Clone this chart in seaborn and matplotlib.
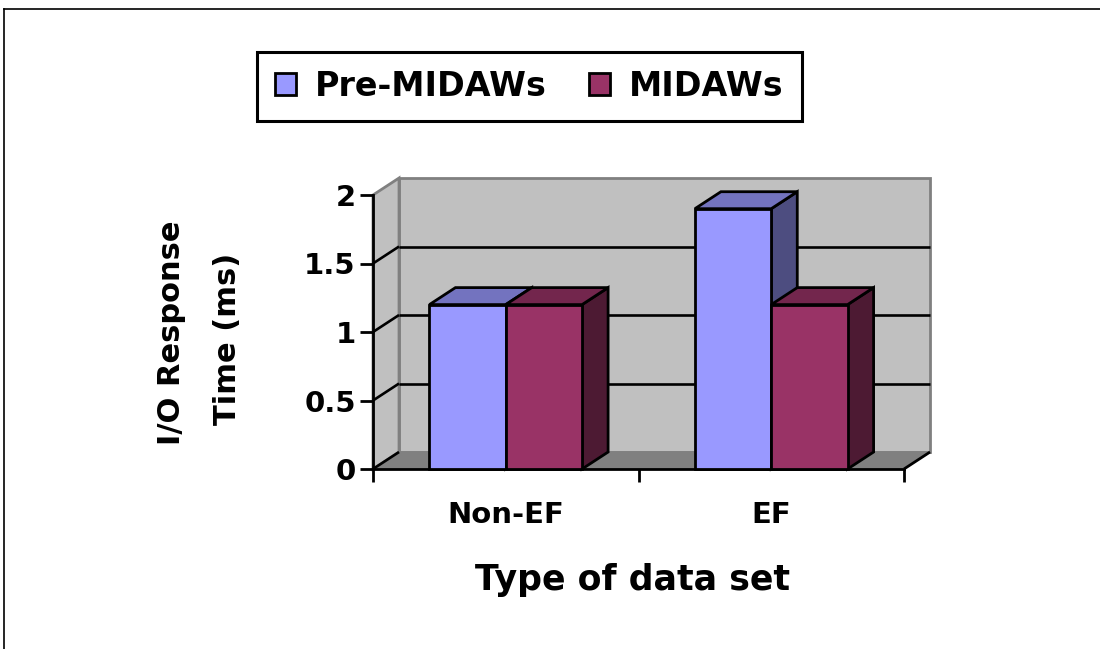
import matplotlib
matplotlib.use("Agg")
import matplotlib.pyplot as plt
import pandas as pd
import seaborn as sns
from matplotlib import colors as mcolors
from matplotlib.lines import Line2D
from matplotlib.patches import Patch, Polygon

# ---- data ----
categories = ["Non-EF", "EF"]
series_names = ["Pre-MIDAWs", "MIDAWs"]
pre_midaws = [1.2, 1.9]
midaws = [1.2, 1.2]
y_ticks = [0, 0.5, 1, 1.5, 2]
y_tick_labels = ["0", "0.5", "1", "1.5", "2"]
series_colors = ["#9999FF", "#993366"]

df = pd.DataFrame({
    "type": categories * 2,
    "series": [series_names[0]] * len(categories) + [series_names[1]] * len(categories),
    "time": pre_midaws + midaws,
})

# depth of the pseudo-3D box, in data units (x: categories, y: ms)
DX, DY = 0.098, 0.124
WALL = "#C0C0C0"
FLOOR = "#808080"


def shade(color, k):
    r, g, b = mcolors.to_rgb(color)
    return (r * k, g * k, b * k)


fig = plt.figure(figsize=(11, 6.49), dpi=100)
ax = fig.add_axes([373 / 1100, 1 - 469 / 649, 531 / 1100, 274 / 649])
ax.set_facecolor("none")

sns.barplot(data=df, x="type", y="time", hue="series", order=categories,
            hue_order=series_names, palette=series_colors, saturation=1,
            width=0.575, gap=0, errorbar=None, edgecolor="black",
            linewidth=2, legend=False, ax=ax)
bars = sorted(ax.patches, key=lambda p: p.get_x())

x0, x1 = -0.5, len(categories) - 0.5
y0, y1 = y_ticks[0], y_ticks[-1]
ax.set_xlim(x0, x1)
ax.set_ylim(y0, y1)

# back wall, side wall and floor
ax.add_patch(Polygon([(x0 + DX, y0 + DY), (x1 + DX, y0 + DY), (x1 + DX, y1 + DY),
                      (x0 + DX, y1 + DY)], closed=True, fc=WALL, ec=FLOOR, lw=2,
                     zorder=0.5, clip_on=False))
ax.add_patch(Polygon([(x0, y0), (x0 + DX, y0 + DY), (x0 + DX, y1 + DY), (x0, y1)],
                     closed=True, fc=WALL, ec=FLOOR, lw=2, zorder=0.55, clip_on=False))
ax.add_patch(Polygon([(x0, y0), (x1, y0), (x1 + DX, y0 + DY), (x0 + DX, y0 + DY)],
                     closed=True, fc=FLOOR, ec=FLOOR, lw=1, zorder=0.6, clip_on=False))

# gridlines on the back wall and their continuation across the side wall
for v in y_ticks[1:-1]:
    ax.plot([x0 + DX, x1 + DX], [v + DY, v + DY], color="black", lw=1.9,
            zorder=0.8, clip_on=False, solid_capstyle="butt")
for v in y_ticks[:-1]:
    ax.plot([x0, x0 + DX], [v, v + DY], color="black", lw=1.9, zorder=0.8,
            clip_on=False, solid_capstyle="butt")
ax.plot([x1, x1 + DX], [y0, y0 + DY], color="black", lw=2, zorder=0.8,
        clip_on=False, solid_capstyle="butt")

# top and side faces of each bar, drawn left to right
for i, bar in enumerate(bars):
    bx, bw, bh = bar.get_x(), bar.get_width(), bar.get_height()
    fc = bar.get_facecolor()
    base = 3 + 2 * i
    top = Polygon([(bx, bh), (bx + bw, bh), (bx + bw + DX, bh + DY), (bx + DX, bh + DY)],
                  closed=True, fc=shade(fc, 0.75), ec="black", lw=2, zorder=base,
                  clip_on=False)
    side = Polygon([(bx + bw, 0), (bx + bw + DX, DY), (bx + bw + DX, bh + DY), (bx + bw, bh)],
                   closed=True, fc=shade(fc, 0.5), ec="black", lw=2, zorder=base,
                   clip_on=False)
    ax.add_patch(side)
    ax.add_patch(top)
    bar.set_zorder(base + 1)
    bar.set_clip_on(False)

# axes, ticks and labels
for s in ("top", "right"):
    ax.spines[s].set_visible(False)
for s in ("left", "bottom"):
    ax.spines[s].set_linewidth(2)
    ax.spines[s].set_color("black")

ax.set_yticks(y_ticks)
ax.set_yticklabels(y_tick_labels, fontsize=21, fontweight="bold")
ax.tick_params(axis="y", length=9.5, width=2, pad=3, direction="out")
ax.set_xticks(range(len(categories)))
ax.set_xticklabels(categories, fontsize=21, fontweight="bold")
ax.set_xticks([x0 + k for k in range(len(categories) + 1)], minor=True)
ax.tick_params(axis="x", which="major", length=0, pad=23)
ax.tick_params(axis="x", which="minor", length=9, width=2, direction="out")

ax.set_ylabel("")
ax.set_xlabel("Type of data set", fontsize=25, fontweight="bold")
ax.xaxis.set_label_coords(0.4896, -0.343)

fig.text(172 / 1100, 1 - 333 / 649, "I/O Response", rotation=90, ha="center",
         va="center", fontsize=22, fontweight="bold")
fig.text(228 / 1100, 1 - 339 / 649, "Time (ms)", rotation=90, ha="center",
         va="center", fontsize=22, fontweight="bold")

handles = [Patch(facecolor=c, edgecolor="black", linewidth=2, label=n)
           for c, n in zip(series_colors, series_names)]
leg = fig.legend(handles=handles, loc="center",
                 bbox_to_anchor=(529.5 / 1100, 1 - 86.5 / 649), ncol=2,
                 frameon=True, fancybox=False, edgecolor="black", framealpha=1,
                 prop=dict(size=24, weight="bold"), handlelength=0.63,
                 handleheight=0.63, handletextpad=0.57, columnspacing=1.26,
                 borderpad=0.55)
leg.get_frame().set_linewidth(2.2)

# outer border (top and left edges)
fig.add_artist(Line2D([4 / 1100, 1], [1 - 9 / 649] * 2, transform=fig.transFigure,
                      color="black", lw=1.2))
fig.add_artist(Line2D([4 / 1100] * 2, [0, 1 - 9 / 649], transform=fig.transFigure,
                      color="black", lw=1.2))

fig.savefig("out.png", dpi=100)
